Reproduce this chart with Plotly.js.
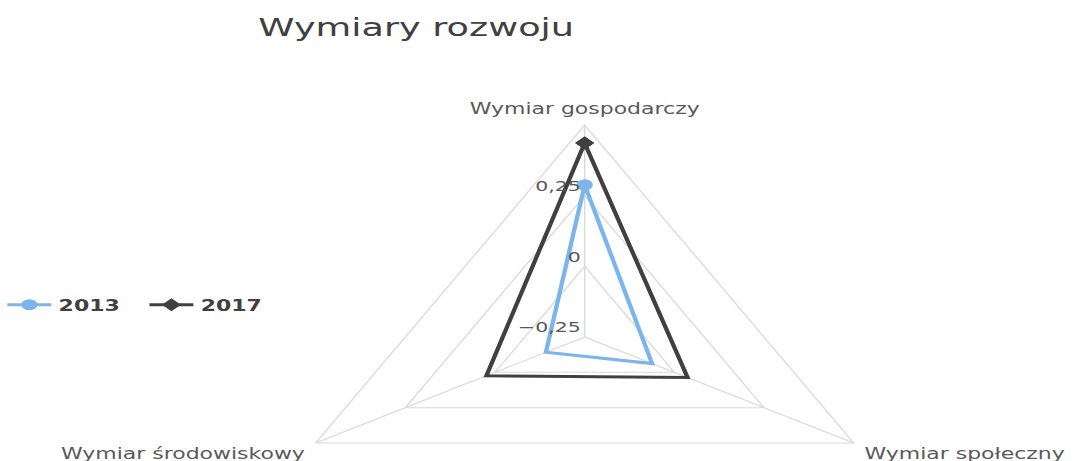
<!DOCTYPE html>
<html>
<head>
<meta charset="utf-8">
<script src="https://cdn.plot.ly/plotly-3.0.1.min.js"></script>
<style>
  html, body { margin: 0; padding: 0; overflow: hidden; background: #fff; }
  #chart { width: 735px; height: 560px; transform: scaleX(1.4653); transform-origin: 0 0; }
</style>
</head>
<body>
<div id="chart"></div>
<script>
const dimensions = ['Wymiar gospodarczy', 'Wymiar społeczny', 'Wymiar środowiskowy'];
const values2013 = [0.288, -0.062, -0.142];
const values2017 = [0.436, 0.037, 0.024];
const radialTicks = [-0.25, 0, 0.25];
const radialTickLabels = ['−0,25', '0', '0,25'];

// zamykamy wielokąt - pierwszy punkt na końcu
const closed = arr => arr.concat(arr.slice(0, 1));

const trace2013 = {
    type: 'scatterpolar',
    name: '2013',
    theta: closed(dimensions),
    r: closed(values2013),
    mode: 'lines+markers',
    line: { color: '#7cb5ec', width: 3 },
    marker: { color: '#7cb5ec', size: 11, symbol: 'circle' }
};

const trace2017 = {
    type: 'scatterpolar',
    name: '2017',
    theta: closed(dimensions),
    r: closed(values2017),
    mode: 'lines+markers',
    line: { color: '#404040', width: 3 },
    marker: { color: '#404040', size: 10, symbol: 'diamond' }
};

const H = 560;
const layout = {
    width: 735,
    height: H,
    margin: { l: 187, r: 124, t: 125, b: H - 549, autoexpand: false },
    paper_bgcolor: '#fff',
    font: { family: 'DejaVu Sans', color: '#595959' },
    title: {
        text: 'Wymiary rozwoju',
        font: { size: 25, color: '#404040' },
        xref: 'container', x: 284 / 735, xanchor: 'center',
        yref: 'container', y: 1 - 27 / H, yanchor: 'middle'
    },
    showlegend: true,
    legend: {
        orientation: 'h',
        xref: 'container', x: 0, xanchor: 'left',
        yref: 'container', y: 1 - 305 / H, yanchor: 'middle',
        font: { size: 15, color: '#404040', weight: 'bold' },
        entrywidth: 52
    },
    polar: {
        gridshape: 'linear',
        bgcolor: 'rgba(0,0,0,0)',
        radialaxis: {
            range: [-0.25, 0.5],
            tickvals: radialTicks,
            // pusta druga linia podnosi etykietę nad linię siatki, jak w Excelu
            ticktext: radialTickLabels.map(t => t + '<br> '),
            angle: 90,
            tickangle: 90,
            side: 'counterclockwise',
            showline: false,
            ticks: '',
            gridcolor: '#d9d9d9',
            tickfont: { size: 14, color: '#595959' }
        },
        angularaxis: {
            rotation: 90,
            direction: 'clockwise',
            showline: true,
            linecolor: '#d9d9d9',
            gridcolor: '#d9d9d9',
            ticks: 'outside',
            ticklen: 5,
            tickcolor: 'rgba(0,0,0,0)',
            tickfont: { size: 15, color: '#595959' }
        }
    }
};

Plotly.newPlot('chart', [trace2013, trace2017], layout, { displayModeBar: false, staticPlot: true });
</script>
</body>
</html>
